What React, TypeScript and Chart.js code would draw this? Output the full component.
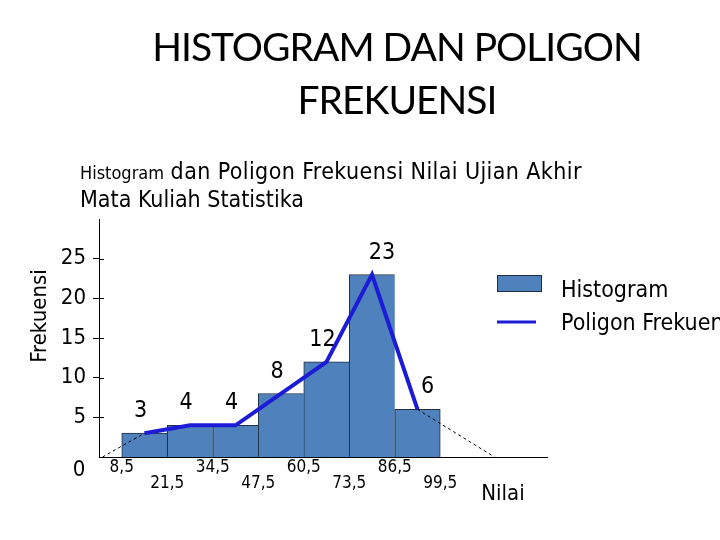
import React, { useEffect, useRef } from "react";
import { Chart, registerables } from "chart.js";

Chart.register(...registerables);

// ---- data ----
const classBoundaries = [8.5, 21.5, 34.5, 47.5, 60.5, 73.5, 86.5, 99.5];
const boundaryLabels = ["8,5", "21,5", "34,5", "47,5", "60,5", "73,5", "86,5", "99,5"];
const classMidpoints = [15, 28, 41, 54, 67, 80, 93];
const frequencies = [3, 4, 4, 8, 12, 23, 6];
const leftTailX = [3, 15];
const leftTailY = [0, 3];
const rightTailX = [93, 115];
const rightTailY = [6, 0];
const yTickValues = [5, 10, 15, 20, 25];
const datasetLabels = ["Histogram", "Poligon Frekuensi"];

const FONT = "'DejaVu Sans Condensed', 'DejaVu Sans', sans-serif";
const BAR_COLOR = "#4f81bd";
const BAR_BORDER = "#1f2d3d";
const LINE_COLOR = "#1c1cd6";

const overlayPlugin = {
  id: "overlay",
  afterDatasetsDraw(chart: any) {
    const ctx = chart.ctx as CanvasRenderingContext2D;
    const area = chart.chartArea;
    const ys = chart.scales.y;
    ctx.save();
    // inner part of the crossing tick marks
    ctx.strokeStyle = "#000";
    ctx.lineWidth = 1;
    for (const v of yTickValues) {
      const py = Math.round(ys.getPixelForValue(v)) + 0.5;
      ctx.beginPath();
      ctx.moveTo(area.left, py);
      ctx.lineTo(area.left + 5, py);
      ctx.stroke();
    }
    // value labels above polygon points
    const meta = chart.getDatasetMeta(1);
    const peak = frequencies.indexOf(Math.max(...frequencies));
    ctx.fillStyle = "#000";
    ctx.textAlign = "center";
    ctx.textBaseline = "middle";
    ctx.font = `23px ${FONT}`;
    meta.data.forEach((pt: any, i: number) => {
      const dx = i < peak ? -4 : 10;
      ctx.fillText(String(frequencies[i]), pt.x + dx, pt.y - 22);
    });
    // zero label
    ctx.font = `22px ${FONT}`;
    ctx.fillText("0", area.left - 20, area.bottom + 13);
    // x axis name
    ctx.font = `22px ${FONT}`;
    ctx.fillText("Nilai", area.right - 44, area.bottom + 37);
    // y axis name
    ctx.save();
    ctx.translate(40, area.top + 97);
    ctx.rotate(-Math.PI / 2);
    ctx.font = `22px ${FONT}`;
    ctx.fillText("Frekuensi", 0, 0);
    ctx.restore();
    // legend
    const ds = chart.data.datasets;
    const lx = area.right - 50;
    const ly = area.top + 56;
    ctx.fillStyle = ds[0].backgroundColor;
    ctx.fillRect(lx, ly, 45, 17);
    ctx.strokeStyle = ds[0].borderColor;
    ctx.lineWidth = 1;
    ctx.strokeRect(lx + 0.5, ly + 0.5, 44, 16);
    ctx.strokeStyle = ds[1].borderColor;
    ctx.lineWidth = 3;
    ctx.beginPath();
    ctx.moveTo(lx, ly + 47);
    ctx.lineTo(lx + 39, ly + 47);
    ctx.stroke();
    ctx.fillStyle = "#000";
    ctx.textAlign = "left";
    ctx.textBaseline = "alphabetic";
    ctx.font = `23px ${FONT}`;
    ctx.fillText(ds[0].label, lx + 64, ly + 22);
    ctx.fillText(ds[1].label, lx + 64, ly + 55);
    ctx.restore();
  },
};

export default function App() {
  const ref = useRef<HTMLCanvasElement | null>(null);

  useEffect(() => {
    if (!ref.current) return;
    const points = classMidpoints.map((x, i) => ({ x, y: frequencies[i] }));
    const lastBar = frequencies.length - 1;
    const chart = new Chart(ref.current, {
      type: "bar",
      data: {
        datasets: [
          {
            type: "bar",
            label: datasetLabels[0],
            data: points,
            backgroundColor: BAR_COLOR,
            borderColor: BAR_BORDER,
            borderWidth: (c: any) => ({
              top: 1,
              left: 1,
              bottom: 0,
              right: c.dataIndex === lastBar ? 1 : 0,
            }),
            borderSkipped: false,
            barPercentage: 1,
            categoryPercentage: 1,
            order: 3,
          } as any,
          {
            type: "line",
            label: datasetLabels[1],
            data: points,
            borderColor: LINE_COLOR,
            borderWidth: 4,
            pointRadius: 0,
            tension: 0,
            order: 1,
          } as any,
          {
            type: "line",
            label: "left tail",
            data: leftTailX.map((x, i) => ({ x, y: leftTailY[i] })),
            borderColor: "#000",
            borderWidth: 1,
            borderDash: [3, 3],
            pointRadius: 0,
            order: 2,
          } as any,
          {
            type: "line",
            label: "right tail",
            data: rightTailX.map((x, i) => ({ x, y: rightTailY[i] })),
            borderColor: "#000",
            borderWidth: 1,
            borderDash: [3, 3],
            pointRadius: 0,
            order: 2,
          } as any,
        ],
      },
      options: {
        responsive: false,
        animation: false,
        devicePixelRatio: 1,
        layout: { padding: { left: 0, top: 219, right: 173, bottom: 0 } },
        plugins: {
          legend: { display: false },
          tooltip: { enabled: false },
          title: { display: false },
        },
        scales: {
          x: {
            type: "linear",
            offset: false,
            min: 2,
            max: 130,
            afterBuildTicks: (s: any) => {
              s.ticks = classBoundaries.map((v) => ({ value: v }));
            },
            afterFit: (s: any) => {
              s.height = 83;
            },
            grid: { display: false, drawTicks: false, offset: false },
            border: { display: true, color: "#000", width: 1 },
            ticks: {
              autoSkip: false,
              maxRotation: 0,
              minRotation: 0,
              padding: 3,
              color: "#000",
              font: { family: FONT, size: 17, lineHeight: "16px" },
              callback: (_v: any, i: number) =>
                i % 2 === 0 ? boundaryLabels[i] : ["", boundaryLabels[i]],
            },
          },
          y: {
            type: "linear",
            min: 0,
            max: 30,
            afterBuildTicks: (s: any) => {
              s.ticks = yTickValues.map((v) => ({ value: v }));
            },
            afterFit: (s: any) => {
              s.width = 99;
            },
            grid: {
              drawOnChartArea: false,
              drawTicks: true,
              tickLength: 6,
              color: "#000",
              tickColor: "#000",
            },
            border: { display: true, color: "#000", width: 1 },
            ticks: {
              padding: 7,
              color: "#000",
              font: { family: FONT, size: 22 },
              callback: (v: any) => String(v),
            },
          },
        },
      } as any,
      plugins: [overlayPlugin],
    });
    return () => chart.destroy();
  }, []);

  return (
    <div
      style={{
        position: "fixed",
        left: 0,
        top: 0,
        width: 720,
        height: 540,
        background: "#fff",
        overflow: "hidden",
      }}
    >
      <canvas
        ref={ref}
        width={720}
        height={540}
        style={{ position: "absolute", left: 0, top: 0, width: 720, height: 540 }}
      />
      <div
        style={{
          position: "absolute",
          left: 0,
          top: 20,
          width: 794,
          textAlign: "center",
          fontFamily: "Lato, 'Open Sans', sans-serif",
          fontSize: 39,
          letterSpacing: "-1px",
          lineHeight: "53px",
          color: "#000",
        }}
      >
        HISTOGRAM DAN POLIGON
        <br />
        FREKUENSI
      </div>
      <div
        style={{
          position: "absolute",
          left: 80,
          top: 158,
          fontFamily: FONT,
          fontSize: 23,
          lineHeight: "27px",
          color: "#000",
          whiteSpace: "nowrap",
        }}
      >
        <span style={{ fontSize: 18 }}>Histogram</span>{" "}
        <span style={{ letterSpacing: "0.4px" }}>dan Poligon Frekuensi Nilai Ujian Akhir</span>
        <br />
        Mata Kuliah Statistika
      </div>
    </div>
  );
}
